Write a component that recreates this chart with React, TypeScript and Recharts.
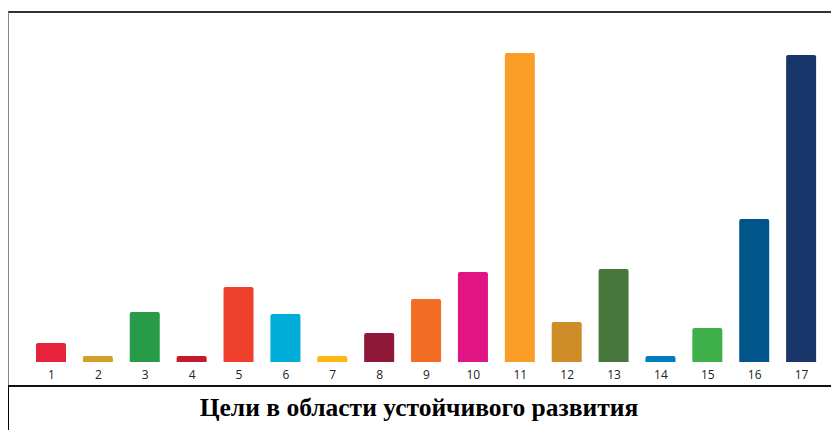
import { BarChart, Bar, XAxis, YAxis, Cell } from "recharts";

// цели 1..17
const goals = ["1", "2", "3", "4", "5", "6", "7", "8", "9", "10", "11", "12", "13", "14", "15", "16", "17"];
const counts = [19, 6, 50, 6, 75, 48, 6, 29, 63, 90, 309, 40, 93, 6, 34, 143, 307];
const goalColors = [
  "#E5243B", "#D3A029", "#279B48", "#C5192D", "#EF402B", "#00AED9",
  "#FDB713", "#8F1838", "#F36D25", "#E11484", "#F99D26", "#CF8D2A",
  "#48773E", "#007DBC", "#3EB049", "#02558B", "#19366A",
];
const title = "Цели в области устойчивого развития";

const data = goals.map((g, i) => ({ goal: g, count: counts[i] }));

export default function App() {
  return (
    <div style={{ marginTop: 3, width: 831 }}>
      <div
        style={{
          borderTop: "2px solid #333",
          borderLeft: "1px solid #888",
          height: 372,
        }}
      >
        <BarChart
          width={830}
          height={372}
          data={data}
          margin={{ top: 40, right: 14, bottom: 3, left: 19 }}
          barSize={30}
        >
          <XAxis
            dataKey="goal"
            axisLine={false}
            tickLine={false}
            interval={0}
            height={20}
            tick={{ fill: "#222", fontSize: 12, fontFamily: "Open Sans" }}
          />
          <YAxis hide domain={[0, "dataMax"]} />
          <Bar dataKey="count" radius={[2, 2, 0, 0]} isAnimationActive={false}>
            {data.map((_, i) => (
              <Cell key={i} fill={goalColors[i]} />
            ))}
          </Bar>
        </BarChart>
      </div>
      <div
        style={{
          borderTop: "2.5px solid #111",
          borderLeft: "1.5px solid #000",
          height: 45,
          fontFamily: "Liberation Serif",
          fontWeight: "bold",
          fontSize: 25.5,
          lineHeight: "42px",
          textAlign: "center",
          paddingRight: 10,
          boxSizing: "border-box",
        }}
      >
        {title}
      </div>
    </div>
  );
}
